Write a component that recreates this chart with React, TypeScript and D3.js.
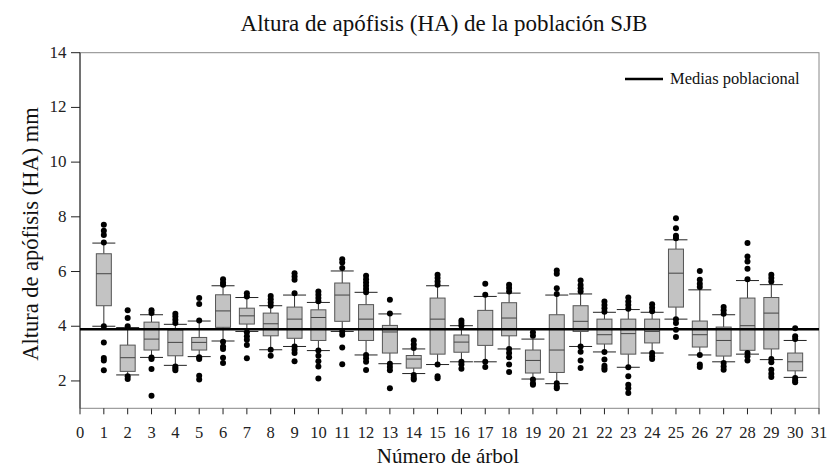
import React from "react";
import * as d3 from "d3";

const trees = [1,2,3,4,5,6,7,8,9,10,11,12,13,14,15,16,17,18,19,20,21,22,23,24,25,26,27,28,29,30];
const whiskerLow = [4.0,2.22,2.86,2.57,2.89,3.46,3.81,3.14,3.26,3.11,3.81,2.95,2.63,2.27,2.60,2.70,2.70,3.17,2.07,1.90,3.26,3.06,2.50,3.02,4.26,2.95,2.70,2.98,2.78,2.13];
const q1 = [4.75,2.35,3.13,2.92,3.13,3.96,4.08,3.65,3.56,3.48,4.18,3.48,3.02,2.47,2.98,3.05,3.30,3.65,2.29,2.31,3.81,3.35,2.98,3.39,4.70,3.24,2.91,3.12,3.17,2.37];
const medians = [5.92,2.85,3.53,3.41,3.41,4.56,4.38,4.09,4.26,4.32,5.14,4.26,3.79,2.80,4.26,3.42,3.88,4.30,2.75,3.13,4.18,3.69,3.73,3.81,5.94,3.69,3.48,4.02,4.48,2.70];
const q3 = [6.65,3.31,4.15,3.86,3.59,5.15,4.66,4.48,4.70,4.60,5.58,4.79,4.03,2.93,5.03,3.68,4.58,4.86,3.13,4.42,4.75,4.26,4.26,4.26,6.82,4.19,3.97,5.03,5.05,3.02];
const whiskerHigh = [7.04,3.95,4.42,4.07,4.19,5.48,5.05,4.75,5.14,4.87,6.02,5.24,4.45,3.17,5.48,4.02,5.09,5.21,3.53,5.14,5.18,4.51,4.61,4.51,7.16,5.33,4.42,5.67,5.52,3.48];
const outliers = [
  [7.71,7.49,7.34,7.06,4.0,3.41,2.84,2.75,2.39],
  [4.58,4.30,4.0,2.17,2.07],
  [4.58,4.48,2.86,2.80,2.44,1.46],
  [4.46,4.36,4.24,4.12,2.53,2.46,2.39],
  [5.03,4.81,4.21,2.87,2.80,2.19,2.05],
  [5.72,5.60,5.52,3.43,3.26,3.17,2.85,2.66],
  [5.21,5.09,3.78,3.63,3.51,3.31,2.83],
  [5.11,4.99,4.87,4.75,3.14,2.92],
  [5.94,5.82,5.70,5.21,3.26,3.14,3.02,2.72],
  [5.27,5.15,5.03,4.91,3.11,2.92,2.72,2.53,2.09],
  [6.45,6.33,6.13,3.81,3.69,3.22,2.61],
  [5.85,5.72,5.60,5.48,5.36,5.24,2.95,2.83,2.70,2.40],
  [4.97,4.47,2.63,2.51,2.39,1.73],
  [3.48,3.33,3.20,2.22,2.12,2.05],
  [5.88,5.76,5.64,5.52,2.60,2.17,2.10],
  [4.21,4.12,4.02,2.70,2.60,2.45],
  [5.55,5.15,2.70,2.51],
  [5.52,5.40,5.27,3.17,3.02,2.87,2.60,2.33],
  [3.78,3.65,2.05,1.92,1.86],
  [6.04,5.92,5.39,5.18,1.92,1.80,1.73],
  [5.67,5.51,5.39,5.27,3.26,3.07,2.75,2.47],
  [4.90,4.78,4.66,4.53,3.06,2.78,2.56,2.47,2.41],
  [5.05,4.90,4.78,4.64,2.50,2.17,1.86,1.73,1.56],
  [4.80,4.68,4.55,3.02,2.90,2.80],
  [7.95,7.58,7.31,7.22,4.26,4.12,3.87,3.61],
  [6.02,5.70,5.55,5.43,2.95,2.60,2.51],
  [4.70,4.58,4.46,2.66,2.53,2.41],
  [7.04,6.55,6.37,6.10,5.72,3.02,2.90,2.75],
  [5.88,5.76,5.64,2.80,2.68,2.41,2.26,2.14],
  [3.93,3.63,3.53,2.11,2.02,1.95],
];
const populationMean = 3.89;
const xTicks = d3.range(0, 32);
const yTicks = [2, 4, 6, 8, 10, 12, 14];

const title = "Altura de apófisis (HA) de la población SJB";
const xLabel = "Número de árbol";
const yLabel = "Altura de apófisis (HA) mm";
const legendLabel = "Medias poblacional";

export default function App() {
  const W = 828, H = 468;
  const left = 80, right = 819, top = 52.7, bottom = 408.3;
  const x = d3.scaleLinear().domain([0, 31]).range([left, right]);
  const y = d3.scaleLinear().domain([1, 14]).range([bottom, top]);
  const font = "'Liberation Serif', 'Times New Roman', serif";
  const boxW = 15;
  const capW = 23;

  return (
    <svg width={W} height={H} style={{ position: "absolute", left: 0, top: 0, background: "#fff" }} fontFamily={font}>
      <text x={444} y={31} textAnchor="middle" fontSize={23} fill="#111">{title}</text>
      {/* frame */}
      <rect x={left} y={top} width={right - left} height={bottom - top} fill="none" stroke="#888" strokeWidth={1} />
      <line x1={left} x2={left} y1={top} y2={bottom} stroke="#222" strokeWidth={1} />
      {/* y ticks */}
      {yTicks.map((t) => (
        <g key={"y" + t}>
          <line x1={left - 9} x2={left} y1={y(t)} y2={y(t)} stroke="#222" />
          <text x={66.5} y={y(t) + 5} textAnchor="end" fontSize={17} fill="#222">{t}</text>
        </g>
      ))}
      {/* x ticks */}
      {xTicks.map((t) => (
        <g key={"x" + t}>
          <line x1={x(t)} x2={x(t)} y1={bottom} y2={bottom + 6} stroke="#222" />
          <text x={x(t)} y={437.5} textAnchor="middle" fontSize={16.5} fill="#222">{t}</text>
        </g>
      ))}
      <text x={448} y={463} textAnchor="middle" fontSize={21} fill="#111">{xLabel}</text>
      <text transform={`translate(37.5,${234}) rotate(-90)`} textAnchor="middle" fontSize={22.5} fill="#111">{yLabel}</text>
      {/* boxes */}
      {trees.map((tr, i) => {
        const cx = x(tr);
        return (
          <g key={"b" + tr}>
            <line x1={cx} x2={cx} y1={y(q3[i])} y2={y(whiskerHigh[i])} stroke="#333" />
            <line x1={cx} x2={cx} y1={y(q1[i])} y2={y(whiskerLow[i])} stroke="#333" />
            <line x1={cx - capW / 2} x2={cx + capW / 2} y1={y(whiskerHigh[i])} y2={y(whiskerHigh[i])} stroke="#222" />
            <line x1={cx - capW / 2} x2={cx + capW / 2} y1={y(whiskerLow[i])} y2={y(whiskerLow[i])} stroke="#222" />
            <rect x={cx - boxW / 2} y={y(q3[i])} width={boxW} height={y(q1[i]) - y(q3[i])} fill="#c3c3c3" stroke="#555" strokeWidth={1} />
            <line x1={cx - boxW / 2} x2={cx + boxW / 2} y1={y(medians[i])} y2={y(medians[i])} stroke="#444" />
            {outliers[i].map((o, j) => (
              <circle key={j} cx={cx} cy={y(o)} r={3} fill="#000" />
            ))}
          </g>
        );
      })}
      {/* mean line */}
      <line x1={left} x2={right} y1={y(populationMean)} y2={y(populationMean)} stroke="#000" strokeWidth={2.6} />
      {/* legend */}
      <line x1={625} x2={663} y1={79} y2={79} stroke="#000" strokeWidth={2.6} />
      <text x={670} y={84} fontSize={16.5} fill="#111">{legendLabel}</text>
    </svg>
  );
}
